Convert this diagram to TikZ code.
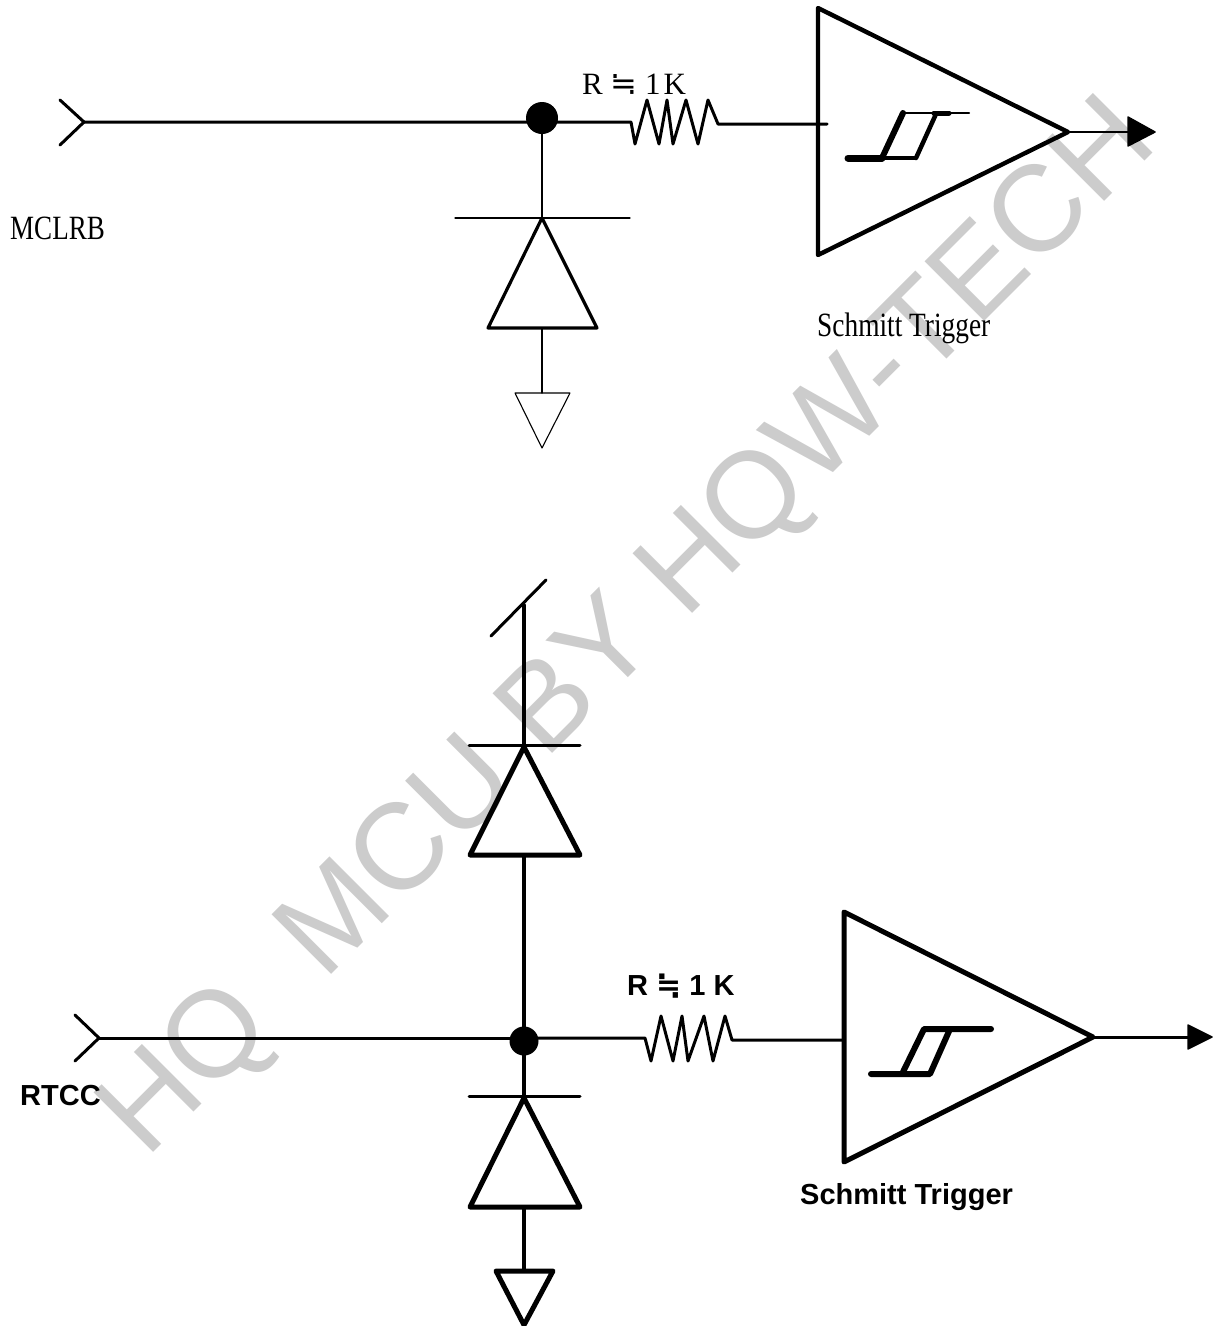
\documentclass[tikz,border=0pt]{standalone}
\usepackage{fontspec}
\setmainfont{Liberation Serif}
\setsansfont{Liberation Sans}
\newfontfamily\apx{DejaVu Sans}
\usetikzlibrary{calc}
\definecolor{wm}{HTML}{CCCCCC}
\tikzset{
  wire/.style={line width=3pt,line cap=round,line join=round},
  hair/.style={line width=1.1pt,line cap=round,line join=round},
  thin wire/.style={line width=1.8pt,line cap=round,line join=round},
  tri/.style={line width=5pt,line join=round,line cap=round},
  midtri/.style={line width=3.2pt,line join=round,line cap=round},
  hyst/.style={line width=6pt,line cap=round,line join=round},
  solidhead/.style={fill=black,draw=black,line width=1.5pt,line join=round},
  lblser/.style={font=\rmfamily,inner sep=0pt,text=black},
  lblsan/.style={font=\sffamily\bfseries,inner sep=0pt,text=black},
}
\begin{document}
\begin{tikzpicture}[x=1pt,y=-1pt]
\useasboundingbox (0,0) rectangle (1218,1326);
\fill[white] (0,0) rectangle (1218,1326);
% watermark
\node[anchor=base west,rotate=45,inner sep=0pt,text=wm,font=\sffamily\fontsize{122.5pt}{122.5pt}\selectfont] (wmk) at (146,1160) {HQ\ \ MCU BY HQW-TECH};

% ---------- upper circuit
\coordinate (ua) at (60,100); \coordinate (ub) at (84,122); \coordinate (uc) at (60,145);
\coordinate (uj) at (542,118);
\coordinate (ur) at (631,122); \coordinate (urb) at (718,124); \coordinate (uin) at (827,124);
\coordinate (ut1) at (818,8); \coordinate (ut2) at (1068,132); \coordinate (ut3) at (818,255);
\coordinate (uhead) at (1128,132);
\coordinate (udt) at (542,218); \coordinate (udl) at (488,328); \coordinate (udr) at (597,328);
\coordinate (udb) at (542,328); \coordinate (ugt) at (542,393);
\draw[wire] (ua) -- (ub) -- (uc);
\draw[wire] (ub) -- (uj |- ub) -- (ur) -- (635,144) -- (647,100) -- (659,144) -- (667,100) -- (673,144) -- (686,100) -- (698,144) -- (708,100) -- (urb) -- (uin);
\fill (uj) circle (16);
\draw[thin wire] (uj) -- (udt);
\draw[hair] (455,218) -- (630,218);
\draw[midtri] (udt) -- (udr) -- (udl) -- cycle;
\draw[hair] (udb) -- (ugt);
\draw[hair] (515,393) -- (570,393) -- (542,448) -- cycle;
\draw[tri,line width=4.4pt] (ut1) -- (ut2) -- (ut3) -- cycle;
\draw[wire,line width=2.4pt] (ut2) -- (uhead);
\draw[solidhead] (uhead) ++(0,-15) -- ++(27,15) -- ++(-27,14) -- cycle;
% hysteresis upper
\draw[line width=7pt,line cap=round] (848,158) -- (882,158);
\draw[line width=3.5pt,line cap=round] (882,158) -- (916,158);
\draw[line width=6pt,line cap=round] (882,158) -- (903,113);
\draw[line width=4.5pt,line cap=round] (916,158) -- (936,114);
\draw[line width=2pt,line cap=round] (903,113) -- (969,113);
\draw[line width=5pt,line cap=round] (934,113) -- (949,113);

\node[lblser,anchor=west] (ur1) at (582,84) {\fontsize{31pt}{31pt}\selectfont R {\apx\fontsize{32pt}{32pt}\selectfont ≒} 1\hspace{3pt}K};
\node[lblser,anchor=west] (umc) at (10,228) {\scalebox{0.795}[1]{\fontsize{34pt}{34pt}\selectfont MCLRB}};
\node[lblser,anchor=west] (ust) at (817,328) {\scalebox{0.805}[1]{\fontsize{34pt}{34pt}\selectfont Schmitt Trigger}};

% ---------- lower circuit
\coordinate (la) at (75,1015); \coordinate (lb) at (99,1038); \coordinate (lc) at (75,1061);
\coordinate (lj) at (524,1041);
\coordinate (lr) at (645,1038); \coordinate (lrb) at (732,1040); \coordinate (lin) at (844,1040);
\coordinate (lt1) at (844,912); \coordinate (lt2) at (1093,1037); \coordinate (lt3) at (844,1162);
\coordinate (lhead) at (1188,1037);
\coordinate (vt) at (524,605); \coordinate (vl) at (491,636); \coordinate (vr) at (546,580);
\coordinate (d1t) at (524,747); \coordinate (d1l) at (470,855); \coordinate (d1r) at (580,855); \coordinate (d1b) at (524,855);
\coordinate (d2t) at (524,1098); \coordinate (d2l) at (470,1207); \coordinate (d2r) at (580,1207); \coordinate (d2b) at (524,1207);
\coordinate (gt) at (524,1271);
\draw[wire] (la) -- (lb) -- (lc);
\draw[wire] (lb) -- (lj |- lb);
\draw[wire] (lj |- lb) -- (lr) -- (651,1061) -- (661,1016) -- (673,1061) -- (682,1016) -- (688,1061) -- (704,1016) -- (713,1061) -- (725,1016) -- (lrb) -- (lin);
\fill (lj) circle (14.5);
\draw[wire] (vl) -- (vr);
\draw[wire,line width=3.4pt] (vt) -- (d1t);
\draw[wire] (469,745) -- (580,745);
\draw[tri] (d1t) -- (d1r) -- (d1l) -- cycle;
\draw[wire,line width=3.4pt] (d1b) -- (lj);
\draw[wire,line width=3.4pt] (lj) -- (d2t);
\draw[wire] (469,1096) -- (580,1096);
\draw[tri] (d2t) -- (d2r) -- (d2l) -- cycle;
\draw[wire,line width=3.4pt] (d2b) -- (gt);
\draw[tri] (496,1271) -- (553,1271) -- (524,1325) -- cycle;
\draw[tri] (lt1) -- (lt2) -- (lt3) -- cycle;
\draw[wire] (lt2) -- (lhead);
\draw[solidhead] (lhead) ++(0,-12) -- ++(24,12) -- ++(-24,12) -- cycle;
\draw[hyst] (871,1074) -- (930,1074) -- (950,1029);
\draw[hyst] (902,1074) -- (924,1029) -- (991,1029);

\node[lblsan,anchor=west] (lr1) at (627,986) {\fontsize{29pt}{29pt}\selectfont R {\apx\fontsize{30pt}{30pt}\selectfont ≒} 1 K};
\node[lblsan,anchor=west] (lrt) at (20,1096) {\fontsize{29pt}{29pt}\selectfont RTCC};
\node[lblsan,anchor=west] (lst) at (800,1197) {\fontsize{29pt}{29pt}\selectfont Schmitt Trigger};
\end{tikzpicture}
\end{document}
